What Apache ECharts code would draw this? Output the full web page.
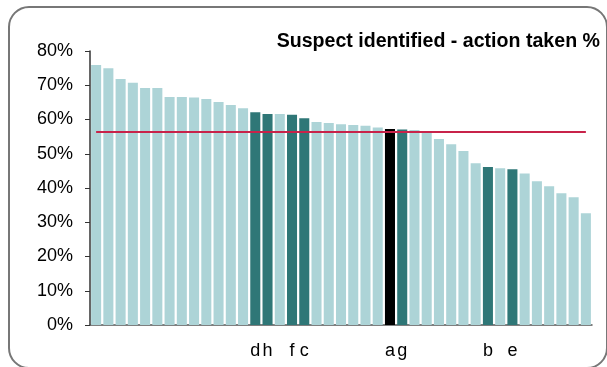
<!DOCTYPE html>
<html>
<head>
<meta charset="utf-8">
<script src="https://cdn.jsdelivr.net/npm/echarts@6/dist/echarts.min.js"></script>
<style>
  html, body { margin: 0; padding: 0; background: #fff; }
  #chart { width: 607px; height: 367px; }
</style>
</head>
<body>
<div id="chart"></div>
<script>
// one bar per unit, sorted high to low; only a few units are labelled
const labels = ['', '', '', '', '', '', '', '', '', '', '', '', '', 'd', 'h', '', 'f', 'c', '', '', '', '', '', '', 'a', 'g', '', '', '', '', '', '', 'b', '', 'e', '', '', '', '', '', ''];
const values = [75.9, 75.0, 71.8, 70.7, 69.2, 69.2, 66.6, 66.6, 66.4, 66.0, 65.1, 64.2, 63.3, 62.1, 61.6, 61.6, 61.4, 60.4, 59.3, 59.0, 58.6, 58.4, 58.2, 57.7, 57.2, 57.1, 56.9, 56.5, 54.3, 52.8, 50.8, 47.2, 46.1, 45.8, 45.5, 44.2, 42.0, 40.5, 38.5, 37.3, 32.6];
// 0 = other, 1 = highlighted, 2 = selected
const kind = [0, 0, 0, 0, 0, 0, 0, 0, 0, 0, 0, 0, 0, 1, 1, 0, 1, 1, 0, 0, 0, 0, 0, 0, 2, 1, 0, 0, 0, 0, 0, 0, 1, 0, 1, 0, 0, 0, 0, 0, 0];
const average = 56.4;
const yTicks = [0, 80, 10]; // min, max, interval

const colors = ['#add4d7', '#2f7777', '#000000'];

var chart = echarts.init(document.getElementById('chart'));

var option = {
    animation: false,
    title: {
        text: 'Suspect identified - action taken %',
        right: 2,
        top: 27,
        textStyle: {
            fontFamily: 'Liberation Sans, Arial, sans-serif',
            fontSize: 19.6,
            fontWeight: 'bold',
            color: '#000'
        }
    },
    graphic: [{
        type: 'rect',
        shape: {x: 9, y: 7, width: 598, height: 361, r: 20},
        style: {fill: 'none', stroke: '#777', lineWidth: 2},
        z: -1
    }],
    grid: {left: 90, right: 15, top: 51, bottom: 42},
    xAxis: {
        type: 'category',
        data: labels,
        axisLine: {lineStyle: {color: '#555', width: 1.5}},
        axisTick: {show: false},
        axisLabel: {
            interval: 0,
            margin: 17,
            fontFamily: 'Liberation Sans, Arial, sans-serif',
            fontSize: 18,
            color: '#000'
        }
    },
    yAxis: {
        type: 'value',
        min: yTicks[0],
        max: yTicks[1],
        interval: yTicks[2],
        splitLine: {show: false},
        axisLine: {show: true, lineStyle: {color: '#333', width: 1.5}},
        axisTick: {show: true, length: 5, lineStyle: {color: '#333'}},
        axisLabel: {
            formatter: '{value}%',
            margin: 17,
            fontFamily: 'Liberation Sans, Arial, sans-serif',
            fontSize: 18,
            color: '#000'
        }
    },
    series: [{
        type: 'bar',
        barCategoryGap: '18%',
        data: values.map((v, i) => ({
            value: v,
            itemStyle: {color: colors[kind[i]]}
        })),
        markLine: {
            silent: true,
            symbol: 'none',
            label: {show: false},
            lineStyle: {color: '#c8234a', width: 2, type: 'solid'},
            data: [[
                {coord: [0, average]},
                {coord: [labels.length - 1, average]}
            ]]
        }
    }]
};

chart.setOption(option);
</script>
</body>
</html>
